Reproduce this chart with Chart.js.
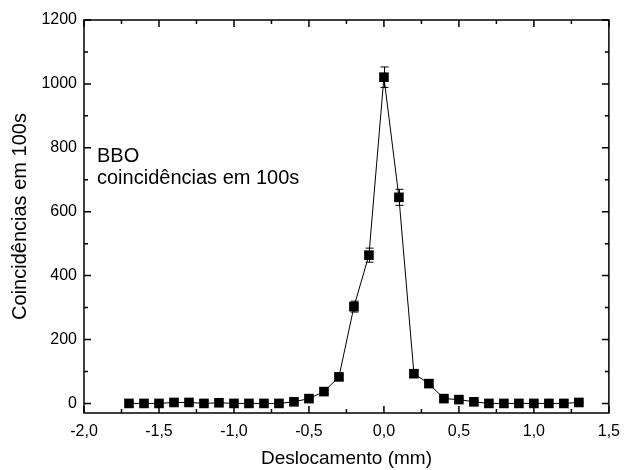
<!DOCTYPE html>
<html>
<head>
<meta charset="utf-8">
<script src="https://cdn.jsdelivr.net/npm/chart.js@4/dist/chart.umd.min.js"></script>
<style>
  html, body { margin: 0; padding: 0; background: #fff; }
  #wrap { width: 629px; height: 470px; }
</style>
</head>
<body>
<div id="wrap"><canvas id="chart" width="629" height="470"></canvas></div>
<script>
// deslocamento (mm) and coincidências counted in 100 s
const deslocamento = [-1.7, -1.6, -1.5, -1.4, -1.3, -1.2, -1.1, -1.0, -0.9, -0.8, -0.7, -0.6, -0.5, -0.4, -0.3, -0.2, -0.1,
  0.0, 0.1, 0.2, 0.3, 0.4, 0.5, 0.6, 0.7, 0.8, 0.9, 1.0, 1.1, 1.2, 1.3];
const coincidencias = [0, 0, 0, 3, 3, 0, 2, 0, 0, 0, 0, 5, 15, 37, 83, 303, 464,
  1021, 645, 93, 62, 15, 12, 5, 0, 0, 0, 0, 0, 0, 3];
const erros = [0, 0, 0, 2, 2, 0, 1, 0, 0, 0, 0, 2, 4, 6, 9, 17, 22,
  32, 25, 10, 8, 4, 3, 2, 0, 0, 0, 0, 0, 0, 2];

const xTicks = [-2.0, -1.5, -1.0, -0.5, 0.0, 0.5, 1.0, 1.5];
const yTicks = [0, 200, 400, 600, 800, 1000, 1200];
const annotation = ["BBO", "coincidências em 100s"];

const FONT = '"Liberation Sans", Arial, sans-serif';

function fmtTick(v) {
  return Number(v).toFixed(1).replace(".", ",");
}

const points = deslocamento.map((x, i) => ({ x, y: coincidencias[i], err: erros[i] }));

// error bars, frame ticks (inward, with minors) and the text label
const extras = {
  id: "extras",
  beforeDatasetsDraw(chart) {
    const ctx = chart.ctx;
    const xs = chart.scales.x, ys = chart.scales.y;
    ctx.save();
    ctx.strokeStyle = "#000";
    ctx.lineWidth = 1;
    points.forEach(p => {
      if (!p.err) return;
      const px = Math.round(xs.getPixelForValue(p.x)) + 0.5;
      const top = ys.getPixelForValue(p.y + p.err);
      const bot = ys.getPixelForValue(p.y - p.err);
      ctx.beginPath();
      ctx.moveTo(px, top); ctx.lineTo(px, bot);
      ctx.moveTo(px - 4, top); ctx.lineTo(px + 4, top);
      ctx.moveTo(px - 4, bot); ctx.lineTo(px + 4, bot);
      ctx.stroke();
    });
    ctx.restore();
  },
  afterDraw(chart) {
    const ctx = chart.ctx;
    const a = chart.chartArea;
    const xs = chart.scales.x, ys = chart.scales.y;
    ctx.save();
    ctx.strokeStyle = "#000";
    ctx.lineWidth = 1.5;
    ctx.strokeRect(a.left, a.top, a.right - a.left, a.bottom - a.top);

    const major = 7, minor = 4;
    ctx.beginPath();
    const xv = xs.ticks.map(t => t.value);
    xv.forEach((v, i) => {
      const px = xs.getPixelForValue(v);
      ctx.moveTo(px, a.bottom); ctx.lineTo(px, a.bottom - major);
      ctx.moveTo(px, a.top); ctx.lineTo(px, a.top + major);
      if (i < xv.length - 1) {
        const mx = xs.getPixelForValue((v + xv[i + 1]) / 2);
        ctx.moveTo(mx, a.bottom); ctx.lineTo(mx, a.bottom - minor);
        ctx.moveTo(mx, a.top); ctx.lineTo(mx, a.top + minor);
      }
    });
    const yv = ys.ticks.map(t => t.value);
    yv.forEach((v, i) => {
      const py = ys.getPixelForValue(v);
      ctx.moveTo(a.left, py); ctx.lineTo(a.left + major, py);
      ctx.moveTo(a.right, py); ctx.lineTo(a.right - major, py);
      if (i < yv.length - 1) {
        const my = ys.getPixelForValue((v + yv[i + 1]) / 2);
        ctx.moveTo(a.left, my); ctx.lineTo(a.left + minor, my);
        ctx.moveTo(a.right, my); ctx.lineTo(a.right - minor, my);
      }
    });
    ctx.stroke();

    ctx.fillStyle = "#000";
    ctx.font = "20px " + FONT;
    ctx.textBaseline = "middle";
    ctx.textAlign = "left";
    ctx.fillText(annotation[0], a.left + 13, a.top + 136);
    ctx.fillText(annotation[1], a.left + 13, a.top + 158);
    ctx.restore();
  }
};

new Chart(document.getElementById("chart"), {
  type: "scatter",
  data: {
    datasets: [{
      data: points,
      showLine: true,
      borderColor: "#000",
      borderWidth: 1,
      backgroundColor: "#000",
      pointStyle: "rect",
      pointRadius: 6.8,
      pointHoverRadius: 6.8,
      pointBorderWidth: 0
    }]
  },
  options: {
    responsive: false,
    animation: false,
    events: [],
    layout: { padding: { top: 20, right: 11, left: 0, bottom: 0 } },
    plugins: { legend: { display: false }, tooltip: { enabled: false } },
    scales: {
      x: {
        type: "linear",
        min: xTicks[0],
        max: xTicks[xTicks.length - 1],
        afterBuildTicks: s => { s.ticks = xTicks.map(value => ({ value })); },
        afterFit: s => { s.height = 57; },
        grid: { display: false, drawTicks: false },
        border: { display: false },
        ticks: { color: "#000", padding: 9, font: { family: FONT, size: 16 }, callback: v => fmtTick(v), maxRotation: 0 },
        title: { display: true, text: "Deslocamento (mm)", color: "#000", padding: 0, font: { family: FONT, size: 19 } }
      },
      y: {
        type: "linear",
        min: -30,
        max: 1200,
        afterBuildTicks: s => { s.ticks = yTicks.map(value => ({ value })); },
        afterFit: s => { s.width = 84; },
        grid: { display: false, drawTicks: false },
        border: { display: false },
        ticks: { color: "#000", padding: 7, font: { family: FONT, size: 16 }, callback: v => String(v) },
        title: { display: true, text: "Coincidências em 100s", color: "#000", padding: 8, font: { family: FONT, size: 20 } }
      }
    }
  },
  plugins: [extras]
});
</script>
</body>
</html>
